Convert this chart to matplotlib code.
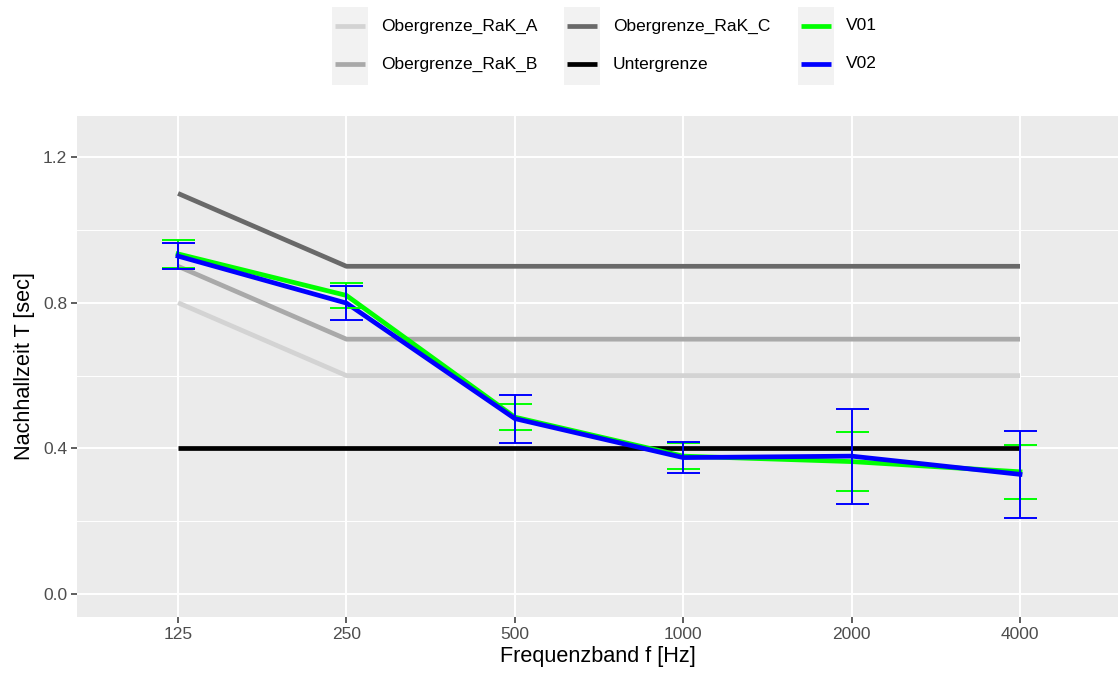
import numpy as np
import matplotlib
matplotlib.use("Agg")
import matplotlib.pyplot as plt
from matplotlib.patches import Rectangle
from matplotlib.lines import Line2D

plt.rcParams['font.family'] = ['Liberation Sans', 'DejaVu Sans']

# Data
freq_labels = ['125', '250', '500', '1000', '2000', '4000']
rak_a = [0.8, 0.6, 0.6, 0.6, 0.6, 0.6]
rak_b = [0.9, 0.7, 0.7, 0.7, 0.7, 0.7]
rak_c = [1.1, 0.9, 0.9, 0.9, 0.9, 0.9]
untergrenze = [0.4, 0.4, 0.4, 0.4, 0.4, 0.4]
v01_mean = [0.934, 0.82, 0.486, 0.379, 0.364, 0.336]
v01_err = [0.039, 0.035, 0.035, 0.035, 0.082, 0.074]
v02_mean = [0.928, 0.799, 0.482, 0.375, 0.379, 0.329]
v02_err = [0.036, 0.046, 0.066, 0.042, 0.130, 0.119]

W, H = 1118, 673
fig = plt.figure(figsize=(W / 100, H / 100), dpi=100)

# panel position in pixels
left, right, top, bottom = 77, 1118, 116, 617
ax = fig.add_axes([left / W, 1 - bottom / H, (right - left) / W, (bottom - top) / H])
ax.set_facecolor('#ebebeb')
for s in ax.spines.values():
    s.set_visible(False)

x = np.arange(len(freq_labels))
ref_series = [
    ('Obergrenze_RaK_A', rak_a, '#d3d3d3'),
    ('Obergrenze_RaK_B', rak_b, '#a9a9a9'),
    ('Obergrenze_RaK_C', rak_c, '#696969'),
    ('Untergrenze', untergrenze, '#000000'),
]
meas_series = [
    ('V01', v01_mean, v01_err, '#00ff00'),
    ('V02', v02_mean, v02_err, '#0000ff'),
]

lw_line = 3.4
for name, vals, col in ref_series:
    ax.plot(x, vals, color=col, lw=lw_line, solid_capstyle='butt', zorder=3)
for name, m, e, col in meas_series:
    ax.plot(x, m, color=col, lw=lw_line, solid_joinstyle='miter', zorder=4)
for name, m, e, col in meas_series:
    ax.errorbar(x, m, yerr=e, fmt='none', ecolor=col, elinewidth=1.4,
                capsize=16.5 * 0.72, capthick=1.4, zorder=5)

# axes limits / grid
xmax = 5 + (right - 1020) / 168.4
ax.set_xlim(-0.6, xmax)
ax.set_ylim(-0.0625, 1.3125)
ax.set_xticks(x)
ax.set_xticklabels(freq_labels)
ax.set_yticks([0.0, 0.4, 0.8, 1.2])
ax.set_yticklabels(['0.0', '0.4', '0.8', '1.2'])
ax.set_yticks([0.2, 0.6, 1.0], minor=True)
ax.grid(True, which='major', color='white', lw=1.4, zorder=0)
ax.grid(True, which='minor', axis='y', color='white', lw=0.7, zorder=0)
ax.set_axisbelow(True)
ax.tick_params(axis='both', which='major', length=4, width=1.1, color='#333333',
               labelcolor='#4d4d4d', labelsize=12.5, pad=3)
ax.tick_params(axis='y', which='minor', length=0)

ax.set_xlabel('Frequenzband f [Hz]', fontsize=15.6, labelpad=3)
ax.set_ylabel('Nachhallzeit T [sec]', fontsize=15.6, labelpad=6)

# legend (ggplot-like, grey key boxes)
def fx(px):
    return px / W

def fy(py):
    return 1 - py / H

legend_items = [(n, c) for n, v, c in ref_series] + [(n, c) for n, m, e, c in meas_series]
col_box_x = [332, 564, 798]
col_text_x = [381, 613, 846]
row_y = [26, 64]
for i, (name, col) in enumerate(legend_items):
    c, r = divmod(i, 2)
    bx = col_box_x[c]
    if r == 0:
        fig.patches.append(Rectangle((fx(bx), fy(85)), 36 / W, 78 / H,
                                     transform=fig.transFigure, facecolor='#f2f2f2',
                                     edgecolor='none', zorder=0))
    fig.lines.append(Line2D([fx(bx + 3), fx(bx + 33)], [fy(row_y[r])] * 2,
                            transform=fig.transFigure, color=col, lw=lw_line,
                            solid_capstyle='butt', zorder=2))
    fig.text(fx(col_text_x[c]), fy(row_y[r]), name, fontsize=12.5, color='black',
             va='center', ha='left')

fig.savefig('out.png', dpi=100)
